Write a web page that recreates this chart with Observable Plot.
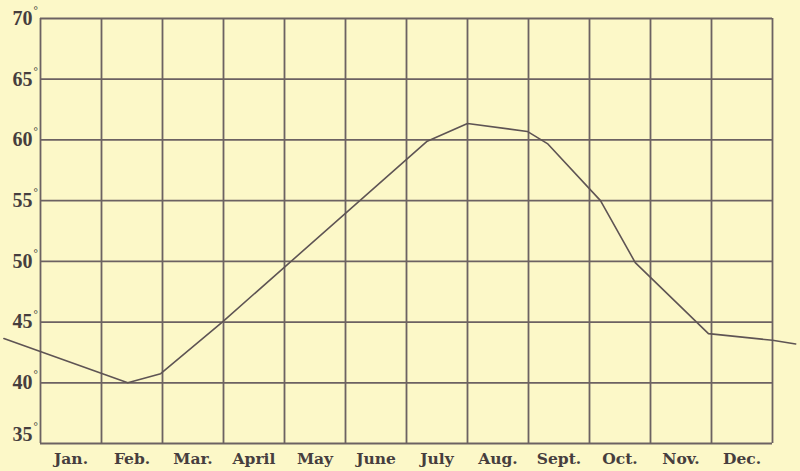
<!DOCTYPE html>
<html>
<head>
<meta charset="utf-8">
<script src="https://cdn.jsdelivr.net/npm/d3@7"></script>
<script src="https://cdn.jsdelivr.net/npm/@observablehq/plot@0.6"></script>
<style>
  html, body { margin: 0; padding: 0; background: #fcf8c8; }
  #chart { width: 800px; height: 471px; }
</style>
</head>
<body>
<div id="chart"></div>
<script>
// Month labels (one per column)
const months = ["Jan.", "Feb.", "Mar.", "April", "May", "June", "July", "Aug.", "Sept.", "Oct.", "Nov.", "Dec."];
// Column boundaries (month index)
const monthEdges = [0, 1, 2, 3, 4, 5, 6, 7, 8, 9, 10, 11, 12];
// Temperature gridlines / tick labels (degrees)
const tempTicks = [35, 40, 45, 50, 55, 60, 65, 70];
// Curve vertices: position in months, temperature in degrees
const curveX = [-0.6, 1.43, 1.97, 2.98, 6.34, 7.0, 7.98, 8.31, 9.18, 9.75, 10.95, 12.0, 12.38];
const curveT = [43.65, 40.0, 40.75, 45.0, 59.9, 61.35, 60.7, 59.7, 55.0, 49.9, 44.05, 43.5, 43.2];

const curve = curveX.map((x, i) => ({x, t: curveT[i]}));
const ink = "#5e5454";
const numFont = "'Liberation Serif', serif";
const monFont = "'DejaVu Serif', serif";
const labelInk = "#463e3e";

const chart = Plot.plot({
  width: 800,
  height: 471,
  marginLeft: 40,
  marginRight: 28,
  marginTop: 18,
  marginBottom: 28,
  x: {domain: [0, 12], axis: null},
  y: {domain: [35, 70], axis: null},
  style: {background: "#fcf8c8", overflow: "visible"},
  marks: [
    Plot.ruleX(monthEdges, {x: d => d, stroke: "#6c6262", strokeWidth: 1.8}),
    Plot.ruleY(tempTicks, {y: d => d, stroke: "#6c6262", strokeWidth: 1.8}),
    Plot.line(curve, {x: "x", y: "t", stroke: ink, strokeWidth: 1.6}),
    // numbers
    Plot.text(tempTicks, {
      x: () => 0, y: d => d, text: d => String(d),
      textAnchor: "end", dx: -8, fontSize: 20, fontWeight: "bold", fontFamily: numFont, fill: labelInk,
      filter: d => d > 35
    }),
    Plot.text(tempTicks, {
      x: () => 0, y: d => d, text: d => String(d),
      textAnchor: "end", dx: -8, dy: -9, fontSize: 20, fontWeight: "bold", fontFamily: numFont, fill: labelInk,
      filter: d => d === 35
    }),
    // small degree marks
    Plot.text(tempTicks, {
      x: () => 0, y: d => d, text: () => "°",
      textAnchor: "start", dx: -7, dy: -8, fontSize: 11, fontWeight: "bold", fontFamily: numFont, fill: labelInk,
      filter: d => d > 35
    }),
    Plot.text(tempTicks, {
      x: () => 0, y: d => d, text: () => "°",
      textAnchor: "start", dx: -7, dy: -17, fontSize: 11, fontWeight: "bold", fontFamily: numFont, fill: labelInk,
      filter: d => d === 35
    }),
    Plot.text(months, {
      x: (d, i) => monthEdges[i] + 0.5, y: () => 35, text: d => d,
      dy: 16, fontSize: 15.5, fontWeight: "bold", fontFamily: monFont, fill: labelInk
    })
  ]
});
document.getElementById("chart").appendChild(chart);
</script>
</body>
</html>
